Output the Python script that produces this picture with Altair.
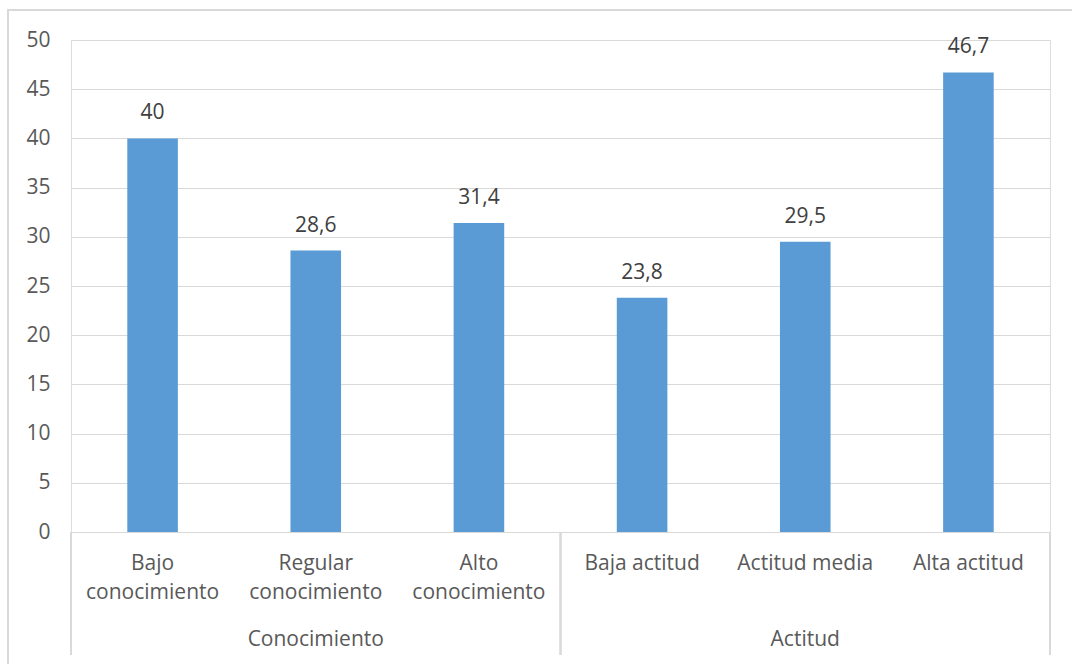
import altair as alt
import pandas as pd

# Category labels (two-line where needed), values and their group
categories = [
    "Bajo\nconocimiento",
    "Regular\nconocimiento",
    "Alto\nconocimiento",
    "Baja actitud",
    "Actitud media",
    "Alta actitud",
]
values = [40, 28.6, 31.4, 23.8, 29.5, 46.7]
groups = ["Conocimiento", "Conocimiento", "Conocimiento", "Actitud", "Actitud", "Actitud"]

group_names = ["Conocimiento", "Actitud"]
group_centers = ["Regular\nconocimiento", "Actitud media"]

y_ticks = [0, 5, 10, 15, 20, 25, 30, 35, 40, 45, 50]

W, H = 979, 492
FONT = "Open Sans"
FS = 21
GRID = "#d9d9d9"
TEXT = "#595959"

df = pd.DataFrame({"categoria": categories, "valor": values, "grupo": groups})
df_groups = pd.DataFrame({"grupo": group_names, "categoria": group_centers})

x = alt.X(
    "categoria:N",
    sort=categories,
    scale=alt.Scale(domain=categories, paddingInner=0.69, paddingOuter=0.345),
    axis=None,
)
y = alt.Y(
    "valor:Q",
    scale=alt.Scale(domain=[0, 50], nice=False),
    axis=alt.Axis(
        values=y_ticks,
        grid=True,
        gridColor=GRID,
        gridWidth=1,
        domain=False,
        ticks=False,
        labelPadding=21,
        labelFontSize=FS,
        labelFont=FONT,
        labelColor=TEXT,
        title=None,
    ),
)

base = alt.Chart(df)

bars = base.mark_bar(color="#5B9BD5").encode(x=x, y=y)

value_labels = base.transform_calculate(
    etiqueta="replace(format(datum.valor, '.1~f'), '.', ',')"
).mark_text(
    baseline="middle", dy=-25, fontSize=FS, font=FONT, color="#404040"
).encode(x=x, y="valor:Q", text="etiqueta:N")

cat_labels = base.mark_text(
    baseline="top", lineBreak="\n", lineHeight=29, fontSize=FS, font=FONT, color=TEXT
).encode(x=x, y=alt.value(H + 21), text="categoria:N")

group_labels = alt.Chart(df_groups).mark_text(
    baseline="middle", fontSize=FS, font=FONT, color=TEXT
).encode(x=x, y=alt.value(H + 108), text="grupo:N")

# Vertical separators of the two-level category axis
separators = alt.layer(*[
    alt.Chart(df).mark_rule(color=GRID, strokeWidth=1.5).encode(
        x=alt.value(px), y=alt.value(H), y2=alt.value(H + 123)
    )
    for px in (0, W / 2, W)
])

# Outer chart frame
frame = alt.Chart(df).mark_rect(
    filled=False, stroke=GRID, strokeWidth=1.5
).encode(
    x=alt.value(-63), y=alt.value(-30), x2=alt.value(W + 60), y2=alt.value(H + 200)
)

chart = alt.layer(
    frame, bars, value_labels, cat_labels, group_labels, separators
).properties(
    width=W,
    height=H,
    padding={"left": 71, "top": 40, "right": 22, "bottom": 132},
    autosize=alt.AutoSizeParams(type="none"),
).configure_view(stroke=None).configure(background="white")

chart.save("out.html", embed_options={"renderer": "svg", "actions": False})
